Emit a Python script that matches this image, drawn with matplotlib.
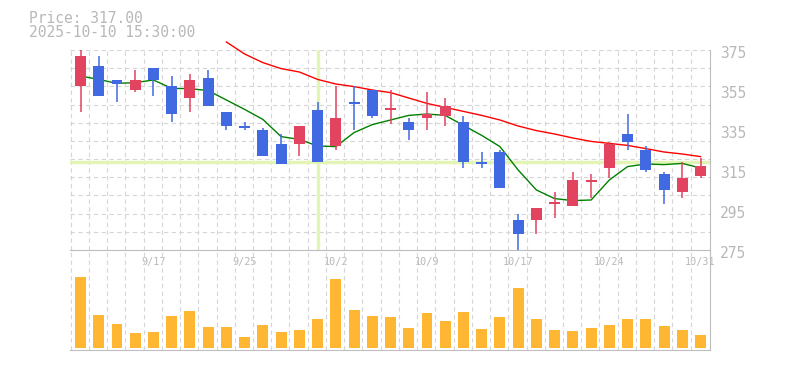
import matplotlib
matplotlib.use('Agg')
import matplotlib.pyplot as plt
import matplotlib.transforms as mtransforms
import numpy as np

# trading days shown (Tokyo), one candle each
dates = ['9/10', '9/11', '9/12', '9/16', '9/17', '9/18', '9/19', '9/22', '9/24', '9/25',
         '9/26', '9/29', '9/30', '10/1', '10/2', '10/3', '10/6', '10/7', '10/8', '10/9',
         '10/10', '10/14', '10/15', '10/16', '10/17', '10/20', '10/21', '10/22', '10/23', '10/24',
         '10/27', '10/28', '10/29', '10/30', '10/31']

opens = [357, 367, 360, 355, 366, 357, 351, 361, 344, 337,
         335, 328, 328, 345, 327, 349, 355, 345, 339, 341,
         342, 339, 319, 324, 290, 290, 298, 297, 309, 316,
         333, 325, 313, 304, 312]
highs = [375, 372, 360, 365, 366, 362, 363, 365, 344, 339,
         336, 333, 337, 349, 357, 357, 355, 355, 341, 354,
         351, 342, 324, 325, 293, 296, 304, 314, 313, 329,
         343, 327, 314, 319, 321]
lows = [344, 352, 349, 354, 352, 339, 344, 347, 335, 335,
        322, 318, 322, 319, 325, 335, 341, 338, 330, 335,
        337, 316, 316, 306, 275, 283, 291, 297, 301, 311,
        325, 314, 298, 301, 311]
closes = [372, 352, 358, 360, 360, 343, 360, 347, 337, 336,
          322, 318, 337, 319, 341, 348, 342, 346, 335, 343,
          347, 319, 318, 306, 283, 296, 299, 310, 310, 328,
          329, 315, 305, 311, 317]

# moving averages as drawn (short = green, long = red)
ma_short = [362, 360.3, 358.3, 358.7, 360, 355.8, 355.7, 354.7, 350, 345.3,
            340.3, 331.7, 330.3, 327, 326.7, 333.7, 337.7, 340, 342.3, 343,
            342.3, 337.3, 332.3, 326.7, 315, 305, 300.7, 299.7, 300, 310,
            316.7, 318, 317.7, 318.3, 316]
ma_long = [np.nan] * 8 + [379, 373, 368.7, 365.7, 364, 360.3, 358, 356.7, 355, 353.7,
                          351, 348.3, 346.3, 344.3, 342.3, 340, 337, 334.7, 333, 331,
                          329.3, 328.3, 327.3, 325.7, 324, 323, 321.7]

# volume, thousand shares
volume = [143, 66, 48, 30, 32, 64, 74, 42, 42, 22,
          46, 32, 36, 58, 138, 76, 64, 62, 40, 70,
          54, 72, 38, 62, 120, 58, 36, 34, 40, 46,
          58, 58, 44, 36, 26]

tick_labels = ['9/17', '9/25', '10/2', '10/9', '10/17', '10/24', '10/31']
price_ticks = [275, 295, 315, 335, 355, 375]
last_price = 317.00
cursor_time = '2025-10-10 15:30:00'
cursor_idx = 13
cursor_price = 318.8

UP = '#e2435f'
DOWN = '#4169e1'
GRID = '#d6d6d6'
AXIS = '#bdbdbd'
TXT = '#b8b8b8'
CROSS = '#e3f5b5'
MONO = 'DejaVu Sans Mono'

W, H = 785, 370
fig = plt.figure(figsize=(W / 100, H / 100), dpi=100)


def rect(l, t, r, b):
    return [l / W, 1 - b / H, (r - l) / W, (b - t) / H]


ax = fig.add_axes(rect(70, 50, 710, 250))
axv = fig.add_axes(rect(70, 250, 710, 350), sharex=ax)
axv.patch.set_visible(False)

x = np.arange(len(dates))
o = np.array(opens, float)
c = np.array(closes, float)
up = c >= o
cols = np.where(up, UP, DOWN)

# grid
for a in (ax, axv):
    for i in x:
        a.axvline(i - 0.54, color=GRID, lw=0.8, ls=(0, (4, 3)), zorder=0)
for k in range(11):
    ax.axhline(375 - k * 100 / 11, color=GRID, lw=0.8, ls=(0, (4, 3)), zorder=0)

# cursor
ax.axhline(cursor_price, color=CROSS, lw=2.4, zorder=1)
ax.axvline(cursor_idx, color=CROSS, lw=2.4, zorder=1)

# moving averages
ax.plot(x, ma_short, color='#008000', lw=1, zorder=2)
ax.plot(x, ma_long, color='#ff0000', lw=1, zorder=2, clip_on=False)

# candles
ax.vlines(x, lows, highs, colors=cols, lw=1.1, zorder=3)
ax.bar(x, np.maximum(np.abs(c - o), 0.8), bottom=np.minimum(o, c), width=0.6,
       color=cols, zorder=4)

ax.set_xlim(-0.576, 34.52)
ax.set_ylim(275, 375)

# volume
axv.bar(x, volume, width=0.6, color='#ffb733', zorder=2)
axv.set_ylim(-4, 196)

for a in (ax, axv):
    a.spines['left'].set_visible(False)
    a.spines['top'].set_visible(False)
    a.spines['right'].set_color(AXIS)
    a.spines['bottom'].set_color(AXIS)
    a.set_xticks([])
    a.set_yticks([])

# price labels on the right
shift = mtransforms.ScaledTranslation(0, -0.035, fig.dpi_scale_trans)
for p in price_ticks:
    ax.text(1.016, p, str(p), transform=ax.get_yaxis_transform() + shift,
            va='center', ha='left', fontsize=10.5, family=MONO, color=TXT)

# date labels
for lab in tick_labels:
    ax.text(dates.index(lab), -0.06, lab, transform=ax.get_xaxis_transform(),
            ha='center', va='center', fontsize=7.3, family=MONO, color=TXT)

fig.text(29 / W, 1 - 23 / H, 'Price: %.2f' % last_price, fontsize=10.5,
         family=MONO, color=TXT, va='baseline')
fig.text(29 / W, 1 - 37.3 / H, cursor_time, fontsize=10.5,
         family=MONO, color=TXT, va='baseline')

fig.savefig('out.png', dpi=100)
